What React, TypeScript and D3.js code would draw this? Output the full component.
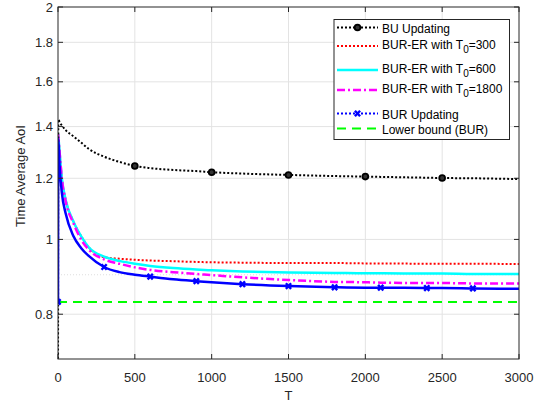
import React from 'react';
import * as d3 from 'd3';

// sample points on T
const tVals = [0, 2, 10, 25, 50, 100, 150, 200, 300, 400, 500, 600, 750, 900, 1000, 1200, 1500, 1800, 2000, 2100, 2400, 2500, 2700, 3000];

const buUpdating = [0.6, 1.43, 1.42, 1.405, 1.385, 1.36, 1.335, 1.31, 1.28, 1.26, 1.245, 1.237, 1.23, 1.226, 1.222, 1.217, 1.212, 1.208, 1.206, 1.205, 1.202, 1.201, 1.2, 1.197];
const burEr300 = [1.37, 1.36, 1.3, 1.2, 1.125, 1.055, 1.01, 0.977, 0.948, 0.944, 0.941, 0.939, 0.937, 0.935, 0.934, 0.933, 0.932, 0.932, 0.931, 0.931, 0.93, 0.93, 0.93, 0.929];
const burEr600 = [1.37, 1.36, 1.3, 1.2, 1.125, 1.055, 1.01, 0.977, 0.95, 0.938, 0.93, 0.924, 0.918, 0.914, 0.912, 0.909, 0.906, 0.905, 0.904, 0.904, 0.903, 0.903, 0.902, 0.902];
const burEr1800 = [1.37, 1.36, 1.3, 1.2, 1.12, 1.05, 1.0, 0.97, 0.942, 0.93, 0.92, 0.913, 0.907, 0.902, 0.899, 0.893, 0.886, 0.881, 0.88, 0.879, 0.878, 0.878, 0.877, 0.877];
const burUpdating = [0.83, 1.35, 1.25, 1.15, 1.08, 1.01, 0.975, 0.952, 0.921, 0.907, 0.9, 0.895, 0.888, 0.883, 0.88, 0.875, 0.87, 0.867, 0.866, 0.866, 0.865, 0.865, 0.864, 0.863];
const lowerBound = 0.83;

const buMarkerT = [500, 1000, 1500, 2000, 2500];
const burMarkerT = [0, 300, 600, 900, 1200, 1500, 1800, 2100, 2400, 2700];

const xTicks = [0, 500, 1000, 1500, 2000, 2500, 3000];
const yTicks = [0.8, 1, 1.2, 1.4, 1.6, 1.8, 2];
const yMinor = [0.9];

const W = 547, H = 404;
const L = 58, R = 519, TOP = 7, B = 359;
const FONT = '"Liberation Sans", Arial, Helvetica, sans-serif';
const TXT = '#262626';

const x = d3.scaleLinear().domain([0, 3000]).range([L, R]);
const y = d3.scaleLog().domain([0.7, 2]).range([B, TOP]);

const line = d3.line<[number, number]>().x(d => x(d[0])).y(d => y(d[1])).curve(d3.curveMonotoneX);
const pts = (vals: number[]) => tVals.map((t, i) => [t, vals[i]] as [number, number]);
const valAt = (vals: number[], t: number) => vals[tVals.indexOf(t)];

const legendItems = [
  { label: 'BU Updating', sub: null, color: '#000', dash: '2,2', w: 2, marker: 'o' },
  { label: 'BUR-ER with T', sub: ['0', '=300'], color: '#ff0000', dash: '2,2', w: 2, marker: null },
  { label: 'BUR-ER with T', sub: ['0', '=600'], color: '#00ffff', dash: null, w: 2.5, marker: null },
  { label: 'BUR-ER with T', sub: ['0', '=1800'], color: '#ff00ff', dash: '8,3,2,3', w: 2.5, marker: null },
  { label: 'BUR Updating', sub: null, color: '#0000ff', dash: '2,2', w: 2, marker: 'x' },
  { label: 'Lower bound (BUR)', sub: null, color: '#00ff00', dash: '9,6', w: 2, marker: null },
];
const legendY = [27.5, 46, 70, 90, 113.5, 128.5];

const Cross = ({ cx, cy, color }: { cx: number; cy: number; color: string }) => (
  <g stroke={color} strokeWidth={2.4}>
    <line x1={cx - 2.6} y1={cy - 2.8} x2={cx + 2.6} y2={cy + 2.8} />
    <line x1={cx - 2.6} y1={cy + 2.8} x2={cx + 2.6} y2={cy - 2.8} />
  </g>
);

const Ring = ({ cx, cy }: { cx: number; cy: number }) => (
  <circle cx={cx} cy={cy} r={2.9} fill="#333" stroke="#000" strokeWidth={1.8} />
);

export default function App() {
  return (
    <svg width={W} height={H} style={{ position: 'absolute', left: 0, top: 0, background: '#fff' }} fontFamily={FONT}>
      <defs>
        <clipPath id="plot">
          <rect x={L} y={TOP} width={R - L} height={B - TOP} />
        </clipPath>
      </defs>
      <rect x={L} y={TOP} width={R - L} height={B - TOP} fill="#fff" />
      {/* grid */}
      {xTicks.slice(1, -1).map(t => (
        <line key={'gx' + t} x1={x(t)} x2={x(t)} y1={TOP} y2={B} stroke="#e3e3e3" strokeWidth={1} />
      ))}
      {yTicks.slice(0, -1).map(t => (
        <line key={'gy' + t} x1={L} x2={R} y1={y(t)} y2={y(t)} stroke="#e3e3e3" strokeWidth={1} />
      ))}
      {yMinor.map(t => (
        <line key={'gm' + t} x1={L} x2={R} y1={y(t)} y2={y(t)} stroke="#d0d0d0" strokeWidth={0.7} strokeDasharray="1,2" />
      ))}

      {/* curves */}
      <g clipPath="url(#plot)" fill="none">
        <line x1={L} x2={R} y1={y(lowerBound)} y2={y(lowerBound)} stroke="#00ff00" strokeWidth={2} strokeDasharray="9,6" />
        <path d={line(pts(burEr300)) || ''} stroke="#ff0000" strokeWidth={2} strokeDasharray="2,2" />
        <path d={line(pts(burEr600)) || ''} stroke="#00ffff" strokeWidth={2.5} />
        <path d={line(pts(burEr1800)) || ''} stroke="#ff00ff" strokeWidth={2.5} strokeDasharray="8,3,2,3" />
        <path d={line(pts(buUpdating)) || ''} stroke="#000" strokeWidth={2} strokeDasharray="2,2" />
        <path d={line(pts(burUpdating)) || ''} stroke="#0000ff" strokeWidth={2.5} />
        {buMarkerT.map(t => (
          <Ring key={'bm' + t} cx={x(t)} cy={y(valAt(buUpdating, t))} />
        ))}
        {burMarkerT.map(t => (
          <Cross key={'rm' + t} cx={x(t)} cy={y(valAt(burUpdating, t))} color="#0000ff" />
        ))}
      </g>

      {/* axes box */}
      <rect x={L} y={TOP} width={R - L} height={B - TOP} fill="none" stroke={TXT} strokeWidth={1} />
      {xTicks.map(t => (
        <g key={'xt' + t}>
          <line x1={x(t)} x2={x(t)} y1={B} y2={B - 5} stroke={TXT} />
          <line x1={x(t)} x2={x(t)} y1={TOP} y2={TOP + 5} stroke={TXT} />
          <text x={x(t)} y={381.5} textAnchor="middle" fontSize={13} fill={TXT}>{t}</text>
        </g>
      ))}
      {yTicks.map(t => (
        <g key={'yt' + t}>
          <line x1={L} x2={L + 5} y1={y(t)} y2={y(t)} stroke={TXT} />
          <line x1={R} x2={R - 5} y1={y(t)} y2={y(t)} stroke={TXT} />
          <text x={53} y={y(t)} dy="0.35em" textAnchor="end" fontSize={13} fill={TXT}>{t}</text>
        </g>
      ))}
      <text x={(L + R) / 2} y={400} textAnchor="middle" fontSize={13} fill={TXT}>T</text>
      <text transform={`translate(25,176) rotate(-90)`} textAnchor="middle" fontSize={13} fill={TXT}>Time Average AoI</text>

      {/* legend */}
      <rect x={334} y={19.5} width={175.5} height={120} fill="#fff" stroke={TXT} strokeWidth={1} />
      {legendItems.map((it, i) => {
        const ly = legendY[i];
        return (
          <g key={'lg' + i}>
            <line x1={337} x2={378} y1={ly} y2={ly} stroke={it.color} strokeWidth={it.w} strokeDasharray={it.dash || undefined} />
            {it.marker === 'o' && <Ring cx={357.5} cy={ly} />}
            {it.marker === 'x' && <Cross cx={357.5} cy={ly} color="#0000ff" />}
            <text x={382} y={ly + (it.sub ? -1 : 1.5)} dy="0.35em" fontSize={12} fill="#000">
              {it.label}
              {it.sub && (
                <>
                  <tspan fontSize={10} dy={4}>{it.sub[0]}</tspan>
                  <tspan dy={-4}>{it.sub[1]}</tspan>
                </>
              )}
            </text>
          </g>
        );
      })}
    </svg>
  );
}
